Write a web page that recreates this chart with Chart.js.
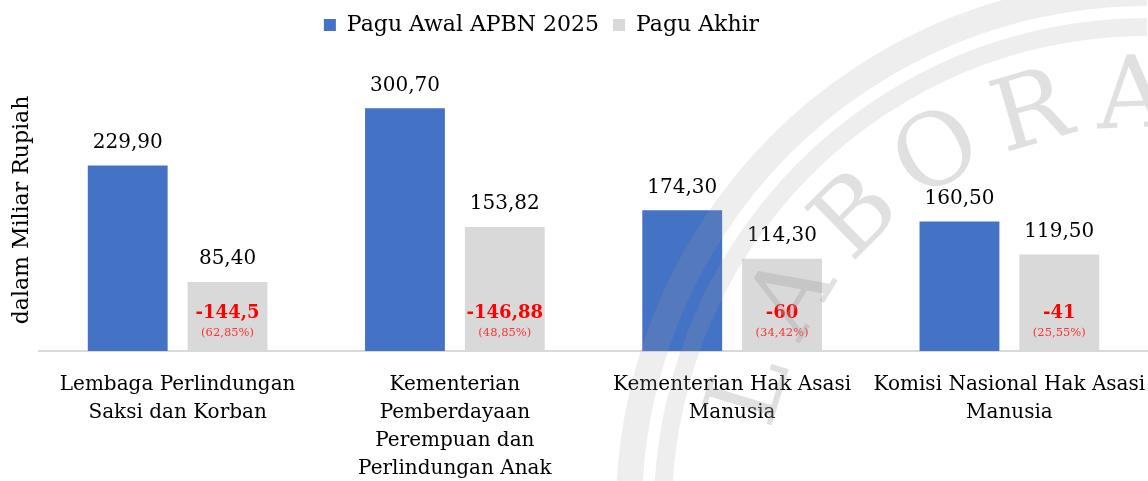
<!DOCTYPE html>
<html>
<head>
<meta charset="utf-8">
<script src="https://cdn.jsdelivr.net/npm/chart.js"></script>
<style>
    html, body { margin: 0; padding: 0; background: #fff; }
    #wrap { width: 1148px; height: 481px; position: relative; }
</style>
</head>
<body>
<div id="wrap"><canvas id="anggaranChart"></canvas></div>
<script>
// Data
const categories = [
    ["Lembaga Perlindungan", "Saksi dan Korban"],
    ["Kementerian", "Pemberdayaan", "Perempuan dan", "Perlindungan Anak"],
    ["Kementerian Hak Asasi", "Manusia"],
    ["Komisi Nasional Hak Asasi", "Manusia"]
];
const paguAwal = [229.90, 300.70, 174.30, 160.50];
const paguAkhir = [85.40, 153.82, 114.30, 119.50];
const selisihLabels = ["-144,5", "-146,88", "-60", "-41"];
const persenLabels = ["(62,85%)", "(48,85%)", "(34,42%)", "(25,55%)"];
const watermarkText = "LABORA";

const FONT = "'DejaVu Serif', serif";

function fmt(v) {
    return v.toFixed(2).replace(".", ",");
}

// Value labels above bars + red reduction labels inside the grey bars
const barLabels = {
    id: 'barLabels',
    afterLayout(chart) {
        // legend sits a bit left of centre in the original
        chart.legend.left -= 52;
        chart.legend.right -= 52;
    },
    afterDatasetsDraw(chart) {
        const ctx = chart.ctx;
        ctx.save();
        ctx.textAlign = 'center';
        ctx.textBaseline = 'middle';
        chart.data.datasets.forEach((ds, di) => {
            const meta = chart.getDatasetMeta(di);
            meta.data.forEach((bar, i) => {
                ctx.fillStyle = '#000';
                ctx.font = "20px " + FONT;
                ctx.fillText(fmt(ds.data[i]), bar.x, bar.y - 23);
                if (di === 1) {
                    ctx.fillStyle = '#ff0000';
                    ctx.font = "bold 18px " + FONT;
                    ctx.fillText(selisihLabels[i], bar.x, bar.base - 38);
                    ctx.fillStyle = '#ff3333';
                    ctx.font = "11.5px " + FONT;
                    ctx.fillText(persenLabels[i], bar.x, bar.base - 18);
                }
            });
        });
        // y axis title
        ctx.fillStyle = '#000';
        ctx.font = "22px " + FONT;
        ctx.translate(22, 210);
        ctx.rotate(-Math.PI / 2);
        ctx.fillText('dalam Miliar Rupiah', 0, 0);
        ctx.restore();
    }
};

// Faint logo watermark over the right half
const watermark = {
    id: 'watermark',
    afterDraw(chart) {
        const ctx = chart.ctx;
        const cx = 1147, cy = 511;
        ctx.save();
        ctx.strokeStyle = 'rgba(160,160,160,0.18)';
        ctx.lineWidth = 26;
        ctx.beginPath();
        ctx.arc(cx, cy, 518, Math.PI * 0.95, Math.PI * 1.5);
        ctx.stroke();
        ctx.lineWidth = 18;
        ctx.beginPath();
        ctx.arc(cx, cy, 484, Math.PI * 0.95, Math.PI * 1.5);
        ctx.stroke();
        ctx.fillStyle = 'rgba(160,160,160,0.32)';
        ctx.font = "100px " + FONT;
        ctx.textAlign = 'center';
        ctx.textBaseline = 'middle';
        const startDeg = -163, stepDeg = 14.2;
        for (let i = 0; i < watermarkText.length; i++) {
            const a = (startDeg + i * stepDeg) * Math.PI / 180;
            ctx.save();
            ctx.translate(cx + 410 * Math.cos(a), cy + 410 * Math.sin(a));
            ctx.rotate(a + Math.PI / 2);
            ctx.fillText(watermarkText[i], 0, 0);
            ctx.restore();
        }
        ctx.restore();
    }
};

function renderChart() {
    const ctx = document.getElementById('anggaranChart').getContext('2d');
    new Chart(ctx, {
        type: 'bar',
        data: {
            labels: categories,
            datasets: [{
                label: 'Pagu Awal APBN 2025',
                data: paguAwal,
                backgroundColor: '#4472c4',
                categoryPercentage: 0.72,
                barPercentage: 0.8
            }, {
                label: 'Pagu Akhir',
                data: paguAkhir,
                backgroundColor: '#d9d9d9',
                categoryPercentage: 0.72,
                barPercentage: 0.8
            }]
        },
        options: {
            responsive: true,
            maintainAspectRatio: false,
            animation: false,
            layout: { padding: { left: 39, right: 0, top: 0, bottom: -22 } },
            plugins: {
                legend: {
                    display: true,
                    position: 'top',
                    labels: {
                        boxWidth: 12,
                        boxHeight: 12,
                        padding: 14,
                        color: '#000',
                        font: { family: FONT, size: 22 }
                    }
                },
                tooltip: { enabled: false }
            },
            scales: {
                x: {
                    grid: { display: false, drawTicks: false },
                    border: { display: true, color: '#d9d9d9', width: 2 },
                    ticks: {
                        color: '#000',
                        padding: 20,
                        maxRotation: 0,
                        autoSkip: false,
                        font: { family: FONT, size: 20, lineHeight: 1.4 }
                    },
                    // let the last label run to the edge like the original
                    afterFit(scale) {
                        scale.paddingLeft = 0;
                        scale.paddingRight = 0;
                    }
                },
                y: {
                    display: false,
                    min: 0,
                    max: 378
                }
            }
        },
        plugins: [barLabels, watermark]
    });
}

renderChart();
</script>
</body>
</html>
